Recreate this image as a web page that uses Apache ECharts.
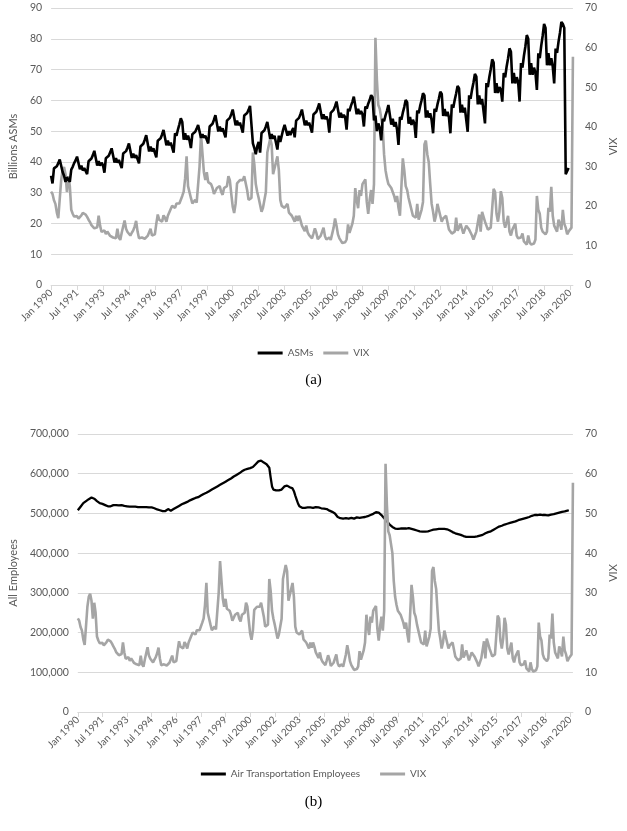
<!DOCTYPE html>
<html>
<head>
<meta charset="utf-8">
<script src="https://cdn.jsdelivr.net/npm/echarts@6/dist/echarts.min.js"></script>
<style>
html,body{margin:0;padding:0;background:#fff;}
#main{width:627px;height:831px;}
</style>
</head>
<body>
<div id="main"></div>
<script>
// Month names for category labels
const monthNames = ['Jan','Feb','Mar','Apr','May','Jun','Jul','Aug','Sep','Oct','Nov','Dec'];
// Tick labels shown every 18 months
const tickLabels = ['Jan 1990','Jul 1991','Jan 1993','Jul 1994','Jan 1996','Jul 1997','Jan 1999','Jul 2000','Jan 2002','Jul 2003','Jan 2005','Jul 2006','Jan 2008','Jul 2009','Jan 2011','Jul 2012','Jan 2014','Jul 2015','Jan 2017','Jul 2018','Jan 2020'];

// Billions ASMs, monthly Jan 1990 - Dec 2019
const asms = [
35.5,33.0,37.9,37.4,38.6,39.6,40.8,40.3,36.7,35.5,33.5,35.0,
35.5,33.5,37.5,38.4,39.6,40.5,41.7,41.3,37.6,38.8,37.2,38.0,
38.0,36.0,40.2,39.7,41.1,42.2,43.6,43.1,38.8,40.2,38.8,39.7,
39.0,36.5,41.2,40.6,42.0,43.1,44.4,43.9,39.8,41.2,39.8,40.6,
40.5,38.0,42.7,42.2,43.5,44.6,46.0,45.5,41.3,42.7,41.3,42.2,
42.5,39.5,45.0,44.4,45.9,47.2,48.7,48.2,43.4,45.0,43.4,44.4,
44.5,41.5,46.9,46.3,47.7,48.9,50.4,49.9,45.4,46.9,45.4,46.3,
46.0,43.0,49.3,48.5,50.5,52.2,54.2,53.0,47.2,49.3,47.2,48.5,
47.0,44.5,49.0,48.5,49.8,50.8,52.0,51.6,47.8,49.0,47.8,48.5,
49.0,46.0,51.5,50.9,52.4,53.7,55.2,54.7,49.9,51.5,49.9,50.9,
51.0,48.0,53.4,52.8,54.3,55.5,57.0,56.5,51.9,53.4,51.9,52.8,
53.0,49.5,55.1,54.6,55.9,56.9,58.2,57.8,46.0,44.5,42.5,45.0,
46.5,43.0,49.4,48.8,50.3,51.5,53.0,52.5,47.5,49.0,47.5,48.5,
48.0,44.0,48.5,46.5,48.5,50.5,52.0,51.7,48.5,50.0,48.7,50.0,
51.0,48.0,53.4,52.8,54.3,55.5,57.0,56.5,51.9,53.4,51.9,52.8,
53.0,49.5,55.4,54.8,56.3,57.5,59.0,58.5,53.9,55.4,53.9,54.8,
53.5,49.5,55.9,55.3,56.9,58.1,59.6,59.1,54.4,55.9,54.4,55.3,
54.5,50.5,57.2,56.5,58.2,59.5,61.2,60.7,55.5,57.2,55.5,56.5,
55.5,51.5,58.0,57.3,58.9,60.1,61.7,61.0,53.5,55.0,50.0,52.5,
51.0,47.0,54.0,53.2,55.1,56.6,58.5,57.9,52.1,54.0,51.5,53.0,
50.5,45.5,54.6,53.7,56.0,57.8,60.1,59.4,52.4,54.6,52.0,53.7,
52.5,47.8,56.7,55.8,58.1,60.0,62.3,61.6,54.4,56.7,54.4,55.8,
53.5,49.3,57.2,56.3,58.6,60.5,62.8,62.1,54.9,57.2,54.9,56.3,
54.5,49.3,58.6,57.6,60.1,62.2,64.7,63.9,56.0,58.6,56.0,57.6,
57.0,49.8,61.6,60.5,63.4,65.7,68.6,67.7,58.7,61.6,58.7,60.5,
60.5,52.5,65.6,64.3,67.5,70.1,73.3,72.3,62.4,65.6,62.4,64.3,
63.5,59.6,68.9,67.5,70.9,73.6,76.9,75.8,65.5,68.9,65.5,67.5,
66.0,59.6,72.1,70.6,74.4,77.4,81.2,80.0,68.3,72.1,68.3,70.6,
69.0,63.4,75.3,73.7,77.7,80.9,84.8,83.5,71.4,75.3,71.4,73.7,
71.0,65.5,76.8,75.4,79.0,81.9,85.5,84.8,83.5,36.0,36.5,38.0
];

// VIX, monthly Jan 1990 - Mar 2020
const vix = [
23.6,23.0,21.4,20.5,18.3,16.9,17.2,26.5,29.0,29.8,28.0,23.5,
27.5,25.0,19.0,18.0,17.3,17.0,17.4,16.8,17.2,17.6,18.2,17.9,
17.8,17.2,16.5,15.9,15.1,14.7,14.3,14.0,14.6,17.5,15.0,13.4,
13.0,13.8,12.9,13.5,13.0,12.4,12.6,12.0,12.2,11.8,14.2,12.0,
11.4,13.2,14.8,16.3,14.2,13.4,13.0,12.5,13.2,13.8,14.8,16.2,
13.5,11.8,12.2,12.0,12.3,11.7,11.9,12.4,12.6,14.2,12.5,12.3,
12.8,15.5,17.8,16.5,16.8,16.0,17.6,17.0,16.0,17.5,18.0,19.2,
20.0,20.2,19.5,20.6,20.3,20.6,21.0,22.5,23.6,27.0,32.5,25.0,
25.5,22.0,20.6,21.0,21.5,20.8,20.6,30.0,38.0,37.5,28.5,26.5,
28.5,26.0,26.5,25.5,24.5,23.0,22.5,24.5,24.0,25.0,23.5,22.8,
24.5,24.8,25.0,27.5,26.5,23.0,19.8,18.2,20.5,25.7,25.5,26.5,
26.0,26.5,27.5,27.0,24.0,21.5,21.0,22.0,33.5,30.5,25.5,23.5,
22.0,21.5,18.5,19.5,19.8,23.5,33.5,33.0,37.0,35.5,28.0,28.5,
31.0,32.5,29.0,21.5,20.0,20.3,19.5,19.3,20.5,18.3,18.0,17.5,
17.0,16.0,17.5,16.2,17.5,16.4,15.0,15.5,13.6,15.0,13.3,12.6,
12.6,11.8,13.0,14.3,13.2,11.6,11.2,12.4,12.0,14.5,12.3,11.5,
11.8,12.0,11.4,11.6,14.5,16.8,15.0,12.8,11.8,11.2,10.6,10.8,
10.8,11.5,15.3,13.2,13.5,15.5,17.5,24.5,21.5,19.4,24.0,22.5,
25.5,26.0,26.7,21.0,18.0,21.5,24.0,20.5,25.5,62.5,52.0,45.5,
44.5,45.0,40.0,33.0,29.0,27.0,25.5,25.0,24.5,23.5,22.5,21.0,
22.5,19.5,17.5,18.0,32.0,29.0,25.0,24.0,22.0,20.5,20.8,17.5,
17.5,17.0,20.5,16.5,16.8,19.0,21.0,35.5,36.5,33.0,31.0,25.5,
20.5,18.5,16.0,17.5,20.5,21.0,17.5,16.0,16.8,17.0,17.5,18.0,
14.0,14.5,13.0,13.5,13.5,17.0,13.7,14.5,15.5,15.5,13.0,14.0,
15.0,15.5,14.0,13.5,12.5,11.5,12.5,13.5,13.0,17.8,13.5,18.5,
18.0,16.0,15.0,14.0,13.5,14.5,14.0,24.3,23.5,18.0,16.0,18.5,
23.7,22.0,16.0,14.5,14.5,17.5,13.5,12.5,14.0,14.5,15.5,12.5,
11.8,11.5,12.0,13.0,11.0,10.8,10.2,12.5,10.8,10.2,10.3,10.5,
11.5,22.5,19.0,18.0,14.5,13.5,13.0,12.8,13.5,19.5,18.5,24.8,
17.5,15.0,15.5,13.5,16.5,15.5,14.0,19.0,15.5,14.5,12.8,13.5,
13.8,14.5,57.7
];

// Air transportation employees (thousands), monthly Jan 1990 - Dec 2019
const employeesK = [
508,512,517,521,526,529,531,534,536,538,540,540,
537,534,531,528,526,525,524,522,521,520,518,514,
518,520,521,521,521,521,520,520,521,520,519,518,
518,517,517,518,517,516,517,517,516,516,516,516,
516,515,516,515,515,515,515,514,513,511,510,509,
508,507,506,505,506,509,511,509,507,508,511,513,
515,517,519,521,523,525,526,527,529,531,533,535,
536,537,539,540,541,543,545,547,549,551,552,554,
556,558,560,562,564,566,568,570,572,574,576,578,
580,582,584,586,588,590,593,595,597,599,601,604,
606,608,610,611,612,614,614,615,617,620,624,628,
631,633,633,631,628,626,624,622,615,590,568,560,
559,558,558,558,559,560,562,568,571,570,568,566,
565,563,556,545,535,525,518,515,514,513,514,515,
515,516,515,514,514,515,516,516,515,514,513,513,
512,512,511,509,507,505,504,503,500,496,491,488,
488,487,487,488,488,488,487,488,489,488,487,488,
490,487,489,484,490,486,491,488,493,495,496,497,
499,501,503,504,502,499,496,492,488,484,480,475,
472,469,466,463,462,462,461,462,462,463,462,462,
462,463,463,462,461,460,459,458,457,456,455,455,
454,454,454,455,455,456,457,458,459,460,460,461,
461,461,461,460,461,461,460,459,457,455,453,451,
450,449,448,447,446,445,443,442,441,441,441,441,
441,441,441,442,442,443,444,445,446,448,450,452,
453,454,455,457,459,461,463,465,467,468,469,471,
472,473,474,475,476,477,478,479,480,482,483,484,
485,486,487,488,489,490,491,492,494,495,496,496,
496,497,497,496,496,497,496,496,495,496,497,497,
498,499,500,501,502,503,504,505,505,507,507,508
];

const categories = [];
for (let i = 0; i < vix.length; i++) {
  categories.push(monthNames[i % 12] + ' ' + (1990 + Math.floor(i / 12)));
}
const employees = employeesK.map(v => v * 1000);

const FONT = 'Lato, "Open Sans", sans-serif';
const LABEL = '#595959';
const GRIDC = '#d9d9d9';
const GRAY = '#a5a5a5';

function xAxisFor(gi) {
  return {
    type: 'category', gridIndex: gi, data: categories, boundaryGap: false,
    axisLine: {lineStyle: {color: GRIDC, width: 1}},
    axisTick: {show: true, interval: 17, length: 5, lineStyle: {color: GRIDC}},
    axisLabel: {
      interval: 17, rotate: 45, color: LABEL, fontSize: 10, fontFamily: FONT, margin: 6,
      formatter: v => tickLabels.indexOf(v) >= 0 ? v : ''
    },
    splitLine: {show: false}
  };
}

const nameStyle = {color: LABEL, fontSize: 11, fontFamily: FONT};
const chart = echarts.init(document.getElementById('main'), null, {renderer: 'canvas'});
chart.setOption({
  animation: false,
  textStyle: {fontFamily: FONT},
  title: [
    {text: '(a)', left: 'center', top: 368, textStyle: {fontFamily: '"Liberation Serif", serif', fontSize: 15, fontWeight: 'normal', color: '#000'}},
    {text: '(b)', left: 'center', top: 790, textStyle: {fontFamily: '"Liberation Serif", serif', fontSize: 15, fontWeight: 'normal', color: '#000'}}
  ],
  legend: [
    {data: ['ASMs', 'VIX'], left: 'center', top: 343, icon: 'rect', itemWidth: 25, itemHeight: 3, itemGap: 10,
     textStyle: {color: LABEL, fontSize: 10, fontFamily: FONT}},
    {data: ['Air Transportation Employees', 'VIX'], left: 'center', top: 764, icon: 'rect', itemWidth: 25, itemHeight: 3, itemGap: 20,
     textStyle: {color: LABEL, fontSize: 10, fontFamily: FONT}}
  ],
  grid: [
    {left: 38, top: 8, width: 548, height: 277},
    {left: 63, top: 434, width: 523, height: 278}
  ],
  xAxis: [xAxisFor(0), xAxisFor(1)],
  yAxis: [
    {type: 'value', gridIndex: 0, position: 'left', min: 0, max: 90, interval: 10,
     name: 'Billions ASMs', nameLocation: 'middle', nameGap: 27, nameRotate: 90, nameTextStyle: nameStyle,
     axisLine: {show: false}, axisTick: {show: false},
     axisLabel: {color: LABEL, fontSize: 10.5, fontFamily: FONT, margin: 9},
     splitLine: {show: true, lineStyle: {color: GRIDC, width: 1}}},
    {type: 'value', gridIndex: 0, position: 'right', min: 0, max: 70, interval: 10,
     name: 'VIX', nameLocation: 'middle', nameGap: 25, nameRotate: 90, nameTextStyle: nameStyle,
     axisLine: {show: false}, axisTick: {show: false},
     axisLabel: {color: LABEL, fontSize: 10.5, fontFamily: FONT, margin: 12},
     splitLine: {show: false}},
    {type: 'value', gridIndex: 1, position: 'left', min: 0, max: 700000, interval: 100000,
     name: 'All Employees', nameLocation: 'middle', nameGap: 52, nameRotate: 90, nameTextStyle: nameStyle,
     axisLine: {show: false}, axisTick: {show: false},
     axisLabel: {color: LABEL, fontSize: 10.5, fontFamily: FONT, margin: 9, formatter: v => v.toLocaleString('en-US')},
     splitLine: {show: true, lineStyle: {color: GRIDC, width: 1}}},
    {type: 'value', gridIndex: 1, position: 'right', min: 0, max: 70, interval: 10,
     name: 'VIX', nameLocation: 'middle', nameGap: 29, nameRotate: 90, nameTextStyle: nameStyle,
     axisLine: {show: false}, axisTick: {show: false},
     axisLabel: {color: LABEL, fontSize: 10.5, fontFamily: FONT, margin: 12},
     splitLine: {show: false}}
  ],
  series: [
    {name: 'VIX', type: 'line', xAxisIndex: 0, yAxisIndex: 1, data: vix, showSymbol: false, z: 2,
     itemStyle: {color: GRAY}, lineStyle: {color: GRAY, width: 2.6}},
    {name: 'ASMs', type: 'line', xAxisIndex: 0, yAxisIndex: 0, data: asms, showSymbol: false, z: 3,
     itemStyle: {color: '#000'}, lineStyle: {color: '#000', width: 2.6}},
    {name: 'Air Transportation Employees', type: 'line', xAxisIndex: 1, yAxisIndex: 2, data: employees, showSymbol: false, z: 2,
     itemStyle: {color: '#000'}, lineStyle: {color: '#000', width: 2.3}},
    {name: 'VIX', type: 'line', xAxisIndex: 1, yAxisIndex: 3, data: vix, showSymbol: false, z: 3,
     itemStyle: {color: GRAY}, lineStyle: {color: GRAY, width: 2.6}}
  ]
});
</script>
</body>
</html>
